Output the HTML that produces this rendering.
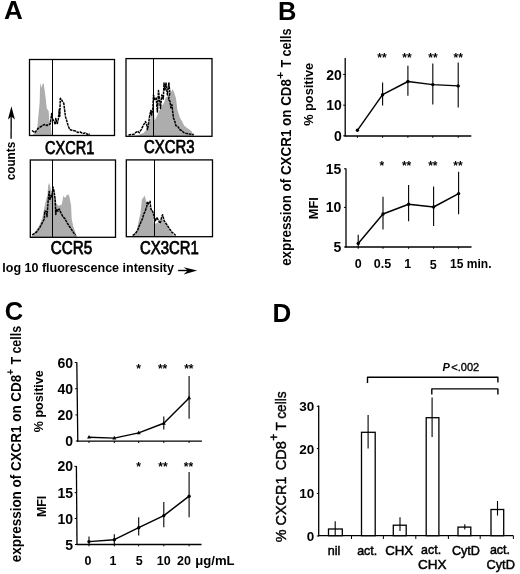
<!DOCTYPE html>
<html><head><meta charset="utf-8"><style>
html,body{margin:0;padding:0;background:#fff;}
body{width:520px;height:574px;overflow:hidden;}
svg{display:block;filter:grayscale(100%);}
text{font-family:'Liberation Sans', sans-serif;fill:#000;}
</style></head><body>
<svg width="520" height="574" viewBox="0 0 520 574">
<rect width="520" height="574" fill="#fff"/>
<text x="4.0" y="19.2" font-size="26" font-weight="bold" text-anchor="start">A</text>
<polygon points="31,135.5 34,134 36.1,132 37.1,130.5 38.1,118.4 39.6,103.3 40.1,86.1 40.6,83 41.6,88.1 42.6,84.1 43.6,83 44.6,90.1 45.7,98.2 46.7,108.3 48.7,111.3 49.2,120.4 50.7,125.5 51.7,134.6 52.5,135.5" fill="#adadad"/>
<polyline points="32,130.5 35,132.5 38,128.5 41.1,126.5 44.1,124.5 46.7,125.5 48.7,124.5 50.2,124 51.7,113.4 52.2,118.4 54.2,121.4 55.3,124.5 55.8,118.4 57.3,123.5 58.3,119.4 59.3,109.3 59.8,116.4 60.3,98.2 61.5,99.5 62.3,101.2 63.8,103.3 64.8,111.3 65.4,116.4 66.9,121.4 68.4,126.5 69.9,129.5 72.5,130.5 75.3,131 78,132.5 80.2,132 83,133.5 85.2,133 88,134.5 90,134" fill="none" stroke="#000" stroke-width="1.5" stroke-linejoin="round" stroke-dasharray="2.8 0.7"/>
<line x1="52.5" y1="59.5" x2="52.5" y2="135.5" stroke="#000" stroke-width="1.0"/>
<rect x="29.5" y="59.5" width="85.0" height="76.0" fill="none" stroke="#000" stroke-width="1.3"/>
<polygon points="131,136 138.5,135 143.9,132.7 147,128.8 150.1,119.6 152.4,110.4 153.5,108 154.7,120.4 157,116 160.1,108.8 164,102.7 165.5,98.1 167.3,96.4 169.9,92.9 171.5,91.5 172.5,89 174,92 175.9,97.9 177.4,109.8 179.9,117.7 182.3,121.7 184.3,125.7 186.8,127.7 189.8,129.7 191.8,131.6 192.8,134.1 194,136" fill="#adadad"/>
<polyline points="128.5,135 133.9,134.2 135.5,132.7 137.8,131.2 139.3,132.7 141.2,129.6 143.5,125 145.5,121.5 147,125.8 147.4,129.6 148.2,125.8 149.3,118.1 150.8,110.4 151.6,115 152.8,108.8 153.5,95 154.7,99.6 156.2,98.1 157.4,112 158.5,90.5 160.5,108.5 161.8,95 163.3,99 164,83 165,89.9 166,83 167.4,94.9 168.9,83 169.9,92.9 168.4,99.9 169.9,100.9 170.9,107.8 171.9,104.8 173.4,117.7 174.9,121.7 175.9,125.7 177.9,126.7 179.9,129.7 181.8,130.6 183.8,132.6 186.8,133.6 189.8,134.1 193.8,134.6" fill="none" stroke="#000" stroke-width="1.5" stroke-linejoin="round" stroke-dasharray="2.8 0.7"/>
<line x1="153.5" y1="58.6" x2="153.5" y2="136.3" stroke="#000" stroke-width="1.0"/>
<rect x="126.0" y="58.6" width="86.0" height="77.70000000000002" fill="none" stroke="#000" stroke-width="1.3"/>
<polygon points="31.5,237 33.3,234.2 38.8,226.5 42.1,218.9 44.3,207.9 45.4,202.4 47.5,194.7 48.1,186 49.2,182.7 50.3,187.1 51.4,192.5 53.6,187.1 54.7,194.7 56.3,203.5 58.5,205.7 61.8,204.6 63.4,195.8 65.1,198 66.7,195.3 68.4,194.2 69.5,197 71.1,205.7 71.7,218.9 73.3,226.5 76.1,234.2 77.1,236.4 77.5,237" fill="#adadad"/>
<polyline points="32.2,234.8 36.6,232 38.2,229.8 40.4,226.5 42.1,223.2 44.3,218.9 44.8,211.2 46.4,211.2 47,216.7 47.5,210.1 48.1,201.3 49.2,191.4 49.7,200.2 50.8,195.8 51.9,196.9 53,187.1 54.1,191.4 54.7,195.8 55.2,200.2 55.8,214.5 56.3,209 58,211.2 59.1,209 60.7,212.3 62.9,216.7 65.1,218.9 67.3,223.2 69.5,226.5 71.7,229.8 73.9,233.1 75.5,235.3" fill="none" stroke="#000" stroke-width="1.5" stroke-linejoin="round" stroke-dasharray="2.8 0.7"/>
<line x1="52.5" y1="160.0" x2="52.5" y2="237.3" stroke="#000" stroke-width="1.0"/>
<rect x="30.3" y="160.0" width="85.2" height="77.30000000000001" fill="none" stroke="#000" stroke-width="1.3"/>
<polygon points="131,236.5 131.8,236 136.7,231.2 139.1,218.7 140.5,212.9 141.9,199.4 143.4,197.5 144.3,195.6 145.3,197.5 146.3,202.3 148.7,205.2 150.6,207.1 151.6,211 153,213.8 154,224.4 155.9,223.5 157.8,222.5 159.7,224.4 161.7,218.7 163.1,219.6 165,223.5 166.9,225.4 168.9,229.2 170.8,232.1 173.2,235 174.5,236.5" fill="#adadad"/>
<polyline points="132.8,235.5 135.7,233.1 137.6,230.2 139.1,226.3 141,222 142.4,218.7 143.9,213.8 145.3,211 146.8,206.2 147.2,202.3 148.2,204.2 149.2,202.3 150.1,201.3 150.6,207.1 151.6,211 152.5,211 153.5,213.8 154.4,218.7 155.4,220.6 156.8,217.7 158.8,220.6 159.7,223.5 160.7,221.5 161.7,216.7 162.6,214.8 164.1,220.6 166,223.5 167.9,226.3 169.8,229.2 171.8,232.1 174.2,234 175.6,235.5" fill="none" stroke="#000" stroke-width="1.5" stroke-linejoin="round" stroke-dasharray="2.8 0.7"/>
<line x1="154.5" y1="159.9" x2="154.5" y2="236.7" stroke="#000" stroke-width="1.0"/>
<rect x="126.3" y="159.9" width="86.2" height="76.79999999999998" fill="none" stroke="#000" stroke-width="1.3"/>
<text x="45" y="154" font-size="18" font-weight="normal" text-anchor="start" textLength="49.2" lengthAdjust="spacingAndGlyphs" stroke="#000" stroke-width="0.75">CXCR1</text>
<text x="144" y="153.3" font-size="18" font-weight="normal" text-anchor="start" textLength="50.6" lengthAdjust="spacingAndGlyphs" stroke="#000" stroke-width="0.75">CXCR3</text>
<text x="50.8" y="254.2" font-size="18" font-weight="normal" text-anchor="start" textLength="41.5" lengthAdjust="spacingAndGlyphs" stroke="#000" stroke-width="0.75">CCR5</text>
<text x="140" y="254" font-size="18" font-weight="normal" text-anchor="start" textLength="58.8" lengthAdjust="spacingAndGlyphs" stroke="#000" stroke-width="0.75">CX3CR1</text>
<text transform="translate(14.8,180.3) rotate(-90)" font-size="12" font-weight="bold" textLength="38.5" lengthAdjust="spacingAndGlyphs">counts</text>
<line x1="11.1" y1="138.8" x2="11.2" y2="114" stroke="#000" stroke-width="1.3"/>
<polygon points="11.4,106.3 7.9,119.4 11.3,116.6 14.9,119.4" fill="#000"/>
<text x="2.3" y="272.4" font-size="12.5" font-weight="bold" text-anchor="start" textLength="171.7" lengthAdjust="spacingAndGlyphs">log 10 fluorescence intensity</text>
<line x1="178.1" y1="270.5" x2="190" y2="270.5" stroke="#000" stroke-width="1.4"/>
<polygon points="197.2,270.5 183.6,267.2 187.8,270.5 183.6,274.6" fill="#000"/>
<text x="278.0" y="19.6" font-size="25.5" font-weight="bold" text-anchor="start">B</text>
<text transform="translate(291.2,265.86) rotate(-90)" font-size="14" font-weight="bold" textLength="186.82" lengthAdjust="spacingAndGlyphs">expression of CXCR1 on CD8</text>
<text transform="translate(284.2,79.1) rotate(-90)" font-size="11.5" font-weight="bold" textLength="7.2" lengthAdjust="spacingAndGlyphs">+</text>
<text transform="translate(291.2,67.56) rotate(-90)" font-size="14" font-weight="bold" textLength="39.12" lengthAdjust="spacingAndGlyphs">T cells</text>
<text transform="translate(312.9,125.8) rotate(-90)" font-size="13" font-weight="bold" textLength="63" lengthAdjust="spacingAndGlyphs">% positive</text>
<text transform="translate(318.0,219.2) rotate(-90)" font-size="13.5" font-weight="bold" textLength="22" lengthAdjust="spacingAndGlyphs">MFI</text>
<line x1="345.2" y1="57.9" x2="345.2" y2="136.6" stroke="#000" stroke-width="1.3"/>
<line x1="344.59999999999997" y1="136.0" x2="471.3" y2="136.0" stroke="#000" stroke-width="1.3"/>
<line x1="343.2" y1="135.8" x2="345.2" y2="135.8" stroke="#000" stroke-width="1.0"/>
<text x="341.8" y="140.8" font-size="14" font-weight="bold" text-anchor="end">0</text>
<line x1="343.2" y1="105.2" x2="345.2" y2="105.2" stroke="#000" stroke-width="1.0"/>
<text x="341.8" y="110.2" font-size="14" font-weight="bold" text-anchor="end">10</text>
<line x1="343.2" y1="74.5" x2="345.2" y2="74.5" stroke="#000" stroke-width="1.0"/>
<text x="341.8" y="79.5" font-size="14" font-weight="bold" text-anchor="end">20</text>
<line x1="357.4" y1="136.0" x2="357.4" y2="137.8" stroke="#000" stroke-width="1.0"/>
<line x1="382.6" y1="136.0" x2="382.6" y2="137.8" stroke="#000" stroke-width="1.0"/>
<line x1="407.9" y1="136.0" x2="407.9" y2="137.8" stroke="#000" stroke-width="1.0"/>
<line x1="432.8" y1="136.0" x2="432.8" y2="137.8" stroke="#000" stroke-width="1.0"/>
<line x1="458.2" y1="136.0" x2="458.2" y2="137.8" stroke="#000" stroke-width="1.0"/>
<line x1="382.6" y1="82.6" x2="382.6" y2="105.4" stroke="#000" stroke-width="1.1"/>
<line x1="407.9" y1="65.7" x2="407.9" y2="95.7" stroke="#000" stroke-width="1.1"/>
<line x1="432.8" y1="63.4" x2="432.8" y2="104.6" stroke="#000" stroke-width="1.1"/>
<line x1="458.2" y1="62.6" x2="458.2" y2="107.5" stroke="#000" stroke-width="1.1"/>
<polyline points="357.4,130.3 382.6,94.7 407.9,81.5 432.8,84.6 458.2,85.9" fill="none" stroke="#000" stroke-width="1.45" stroke-linejoin="round"/>
<circle cx="357.4" cy="130.3" r="1.7" fill="#000"/>
<circle cx="382.6" cy="94.7" r="1.7" fill="#000"/>
<circle cx="407.9" cy="81.5" r="1.7" fill="#000"/>
<circle cx="432.8" cy="84.6" r="1.7" fill="#000"/>
<circle cx="458.2" cy="85.9" r="1.7" fill="#000"/>
<text x="381.9" y="61.6" font-size="12" font-weight="bold" text-anchor="middle">**</text>
<text x="407.0" y="61.6" font-size="12" font-weight="bold" text-anchor="middle">**</text>
<text x="432.9" y="61.6" font-size="12" font-weight="bold" text-anchor="middle">**</text>
<text x="458.2" y="61.6" font-size="12" font-weight="bold" text-anchor="middle">**</text>
<line x1="346.0" y1="168.4" x2="346.0" y2="247.6" stroke="#000" stroke-width="1.3"/>
<line x1="345.4" y1="247.0" x2="471.5" y2="247.0" stroke="#000" stroke-width="1.3"/>
<line x1="344.0" y1="247.0" x2="346.0" y2="247.0" stroke="#000" stroke-width="1.0"/>
<text x="341.4" y="252.0" font-size="14" font-weight="bold" text-anchor="end">5</text>
<line x1="344.0" y1="207.4" x2="346.0" y2="207.4" stroke="#000" stroke-width="1.0"/>
<text x="341.4" y="212.4" font-size="14" font-weight="bold" text-anchor="end">10</text>
<line x1="344.0" y1="168.8" x2="346.0" y2="168.8" stroke="#000" stroke-width="1.0"/>
<text x="341.4" y="173.8" font-size="14" font-weight="bold" text-anchor="end">15</text>
<line x1="358.2" y1="247.0" x2="358.2" y2="248.8" stroke="#000" stroke-width="1.0"/>
<line x1="383.0" y1="247.0" x2="383.0" y2="248.8" stroke="#000" stroke-width="1.0"/>
<line x1="408.6" y1="247.0" x2="408.6" y2="248.8" stroke="#000" stroke-width="1.0"/>
<line x1="433.6" y1="247.0" x2="433.6" y2="248.8" stroke="#000" stroke-width="1.0"/>
<line x1="458.6" y1="247.0" x2="458.6" y2="248.8" stroke="#000" stroke-width="1.0"/>
<line x1="358.2" y1="234.8" x2="358.2" y2="247" stroke="#000" stroke-width="1.1"/>
<line x1="383.0" y1="196.7" x2="383.0" y2="229.6" stroke="#000" stroke-width="1.1"/>
<line x1="408.6" y1="185.1" x2="408.6" y2="221.2" stroke="#000" stroke-width="1.1"/>
<line x1="433.6" y1="186.4" x2="433.6" y2="225.9" stroke="#000" stroke-width="1.1"/>
<line x1="458.6" y1="171.8" x2="458.6" y2="214.2" stroke="#000" stroke-width="1.1"/>
<polyline points="358.2,243.5 383.0,214.0 408.6,204.2 433.6,207.0 458.6,193.6" fill="none" stroke="#000" stroke-width="1.45" stroke-linejoin="round"/>
<circle cx="358.2" cy="243.5" r="1.7" fill="#000"/>
<circle cx="383.0" cy="214.0" r="1.7" fill="#000"/>
<circle cx="408.6" cy="204.2" r="1.7" fill="#000"/>
<circle cx="433.6" cy="207.0" r="1.7" fill="#000"/>
<circle cx="458.6" cy="193.6" r="1.7" fill="#000"/>
<text x="381.9" y="169.7" font-size="12" font-weight="bold" text-anchor="middle">*</text>
<text x="406.6" y="169.7" font-size="12" font-weight="bold" text-anchor="middle">**</text>
<text x="432.8" y="169.7" font-size="12" font-weight="bold" text-anchor="middle">**</text>
<text x="458.0" y="169.7" font-size="12" font-weight="bold" text-anchor="middle">**</text>
<text x="358.2" y="268.4" font-size="12.5" font-weight="bold" text-anchor="middle">0</text>
<text x="382.5" y="268.4" font-size="12.5" font-weight="bold" text-anchor="middle">0.5</text>
<text x="407.8" y="268.4" font-size="12.5" font-weight="bold" text-anchor="middle">1</text>
<text x="433.3" y="269.3" font-size="12.5" font-weight="bold" text-anchor="middle">5</text>
<text x="450" y="268.4" font-size="12.5" font-weight="bold" text-anchor="start" textLength="41.5" lengthAdjust="spacingAndGlyphs">15 min.</text>
<text x="4.8" y="319.6" font-size="25.5" font-weight="bold" text-anchor="start">C</text>
<text transform="translate(20.6,562.16) rotate(-90)" font-size="14" font-weight="bold" textLength="187.42" lengthAdjust="spacingAndGlyphs">expression of CXCR1 on CD8</text>
<text transform="translate(13.5,374.9) rotate(-90)" font-size="11.5" font-weight="bold" textLength="5.8" lengthAdjust="spacingAndGlyphs">+</text>
<text transform="translate(20.6,364.56) rotate(-90)" font-size="14" font-weight="bold" textLength="38.62" lengthAdjust="spacingAndGlyphs">T cells</text>
<text transform="translate(43.0,432.2) rotate(-90)" font-size="13" font-weight="bold" textLength="62" lengthAdjust="spacingAndGlyphs">% positive</text>
<text transform="translate(45.9,517.1) rotate(-90)" font-size="13.5" font-weight="bold" textLength="21.4" lengthAdjust="spacingAndGlyphs">MFI</text>
<line x1="76.8" y1="362.2" x2="77.8" y2="441.8" stroke="#000" stroke-width="1.3"/>
<line x1="77.2" y1="441.2" x2="201.9" y2="441.2" stroke="#000" stroke-width="1.3"/>
<line x1="75.79746835443038" y1="441.0" x2="77.79746835443038" y2="441.0" stroke="#000" stroke-width="1.0"/>
<text x="73.0" y="446.0" font-size="14" font-weight="bold" text-anchor="end">0</text>
<line x1="75.46708860759493" y1="414.9" x2="77.46708860759493" y2="414.9" stroke="#000" stroke-width="1.0"/>
<text x="73.0" y="419.9" font-size="14" font-weight="bold" text-anchor="end">20</text>
<line x1="75.13544303797468" y1="388.7" x2="77.13544303797468" y2="388.7" stroke="#000" stroke-width="1.0"/>
<text x="73.0" y="393.7" font-size="14" font-weight="bold" text-anchor="end">40</text>
<line x1="74.80379746835443" y1="362.5" x2="76.80379746835443" y2="362.5" stroke="#000" stroke-width="1.0"/>
<text x="73.0" y="367.5" font-size="14" font-weight="bold" text-anchor="end">60</text>
<line x1="89.0" y1="441.2" x2="89.0" y2="443.0" stroke="#000" stroke-width="1.0"/>
<line x1="114.3" y1="441.2" x2="114.3" y2="443.0" stroke="#000" stroke-width="1.0"/>
<line x1="138.7" y1="441.2" x2="138.7" y2="443.0" stroke="#000" stroke-width="1.0"/>
<line x1="163.8" y1="441.2" x2="163.8" y2="443.0" stroke="#000" stroke-width="1.0"/>
<line x1="189.1" y1="441.2" x2="189.1" y2="443.0" stroke="#000" stroke-width="1.0"/>
<line x1="163.8" y1="416.4" x2="163.8" y2="429.4" stroke="#000" stroke-width="1.1"/>
<line x1="189.1" y1="376.1" x2="189.1" y2="418.7" stroke="#000" stroke-width="1.1"/>
<polyline points="89.0,437.2 114.3,438.1 138.7,432.9 163.8,423.3 189.1,397.9" fill="none" stroke="#000" stroke-width="1.45" stroke-linejoin="round"/>
<polygon points="87.0,438.59999999999997 91.0,438.59999999999997 89.0,434.9" fill="#000"/>
<polygon points="112.3,439.5 116.3,439.5 114.3,435.8" fill="#000"/>
<polygon points="136.7,434.29999999999995 140.7,434.29999999999995 138.7,430.59999999999997" fill="#000"/>
<polygon points="161.8,424.7 165.8,424.7 163.8,421.0" fill="#000"/>
<polygon points="187.1,399.29999999999995 191.1,399.29999999999995 189.1,395.59999999999997" fill="#000"/>
<text x="138.7" y="373.0" font-size="12" font-weight="bold" text-anchor="middle">*</text>
<text x="162.6" y="373.0" font-size="12" font-weight="bold" text-anchor="middle">**</text>
<text x="188.8" y="373.0" font-size="12" font-weight="bold" text-anchor="middle">**</text>
<line x1="76.4" y1="466.0" x2="77.0" y2="545.1" stroke="#000" stroke-width="1.3"/>
<line x1="76.4" y1="544.5" x2="201.5" y2="544.5" stroke="#000" stroke-width="1.3"/>
<line x1="75.0" y1="544.5" x2="77.0" y2="544.5" stroke="#000" stroke-width="1.0"/>
<text x="73.0" y="549.5" font-size="14" font-weight="bold" text-anchor="end">5</text>
<line x1="74.80127388535033" y1="518.5" x2="76.80127388535033" y2="518.5" stroke="#000" stroke-width="1.0"/>
<text x="73.0" y="523.5" font-size="14" font-weight="bold" text-anchor="end">10</text>
<line x1="74.60331210191083" y1="492.6" x2="76.60331210191083" y2="492.6" stroke="#000" stroke-width="1.0"/>
<text x="73.0" y="497.6" font-size="14" font-weight="bold" text-anchor="end">15</text>
<line x1="74.40229299363058" y1="466.3" x2="76.40229299363058" y2="466.3" stroke="#000" stroke-width="1.0"/>
<text x="73.0" y="471.3" font-size="14" font-weight="bold" text-anchor="end">20</text>
<line x1="89.0" y1="544.5" x2="89.0" y2="546.3" stroke="#000" stroke-width="1.0"/>
<line x1="114.3" y1="544.5" x2="114.3" y2="546.3" stroke="#000" stroke-width="1.0"/>
<line x1="138.7" y1="544.5" x2="138.7" y2="546.3" stroke="#000" stroke-width="1.0"/>
<line x1="163.8" y1="544.5" x2="163.8" y2="546.3" stroke="#000" stroke-width="1.0"/>
<line x1="189.1" y1="544.5" x2="189.1" y2="546.3" stroke="#000" stroke-width="1.0"/>
<line x1="89.0" y1="536.6" x2="89.0" y2="544" stroke="#000" stroke-width="1.1"/>
<line x1="114.3" y1="534.2" x2="114.3" y2="544" stroke="#000" stroke-width="1.1"/>
<line x1="138.7" y1="517.3" x2="138.7" y2="535.4" stroke="#000" stroke-width="1.1"/>
<line x1="163.8" y1="502.0" x2="163.8" y2="527.3" stroke="#000" stroke-width="1.1"/>
<line x1="189.1" y1="472.0" x2="189.1" y2="517.3" stroke="#000" stroke-width="1.1"/>
<polyline points="89.0,541.6 114.3,539.7 138.7,527.7 163.8,515.6 189.1,496.2" fill="none" stroke="#000" stroke-width="1.45" stroke-linejoin="round"/>
<circle cx="89.0" cy="541.6" r="1.7" fill="#000"/>
<circle cx="114.3" cy="539.7" r="1.7" fill="#000"/>
<circle cx="138.7" cy="527.7" r="1.7" fill="#000"/>
<circle cx="163.8" cy="515.6" r="1.7" fill="#000"/>
<circle cx="189.1" cy="496.2" r="1.7" fill="#000"/>
<text x="138.7" y="470.5" font-size="12" font-weight="bold" text-anchor="middle">*</text>
<text x="163.0" y="470.5" font-size="12" font-weight="bold" text-anchor="middle">**</text>
<text x="188.4" y="470.5" font-size="12" font-weight="bold" text-anchor="middle">**</text>
<text x="87.9" y="564.8" font-size="12.5" font-weight="bold" text-anchor="middle">0</text>
<text x="113.1" y="564.8" font-size="12.5" font-weight="bold" text-anchor="middle">1</text>
<text x="139.3" y="564.8" font-size="12.5" font-weight="bold" text-anchor="middle">5</text>
<text x="163.7" y="564.8" font-size="12.5" font-weight="bold" text-anchor="middle">10</text>
<text x="183.9" y="564.8" font-size="12.5" font-weight="bold" text-anchor="middle">20</text>
<text x="195.2" y="564.8" font-size="12.5" font-weight="bold" text-anchor="start" textLength="39.4" lengthAdjust="spacingAndGlyphs">&#956;g/mL</text>
<text x="272.6" y="321.8" font-size="26" font-weight="bold" text-anchor="start">D</text>
<text transform="translate(285.7,542.2) rotate(-90)" font-size="15" font-weight="normal" textLength="65.6" lengthAdjust="spacingAndGlyphs" stroke="#000" stroke-width="0.4">% CXCR1</text>
<text transform="translate(285.7,470.3) rotate(-90)" font-size="15" font-weight="normal" textLength="29.1" lengthAdjust="spacingAndGlyphs" stroke="#000" stroke-width="0.4">CD8</text>
<text transform="translate(277.6,440.7) rotate(-90)" font-size="12" font-weight="normal" textLength="7.0" lengthAdjust="spacingAndGlyphs" stroke="#000" stroke-width="0.4">+</text>
<text transform="translate(285.7,430.6) rotate(-90)" font-size="15" font-weight="normal" textLength="39.2" lengthAdjust="spacingAndGlyphs" stroke="#000" stroke-width="0.4">T cells</text>
<line x1="318.7" y1="405.6" x2="318.7" y2="536.3" stroke="#000" stroke-width="1.3"/>
<line x1="318.0" y1="535.7" x2="513.4" y2="535.7" stroke="#000" stroke-width="1.3"/>
<line x1="316.8" y1="536.0" x2="318.7" y2="536.0" stroke="#000" stroke-width="1.0"/>
<text x="314.2" y="540.9" font-size="13.5" font-weight="bold" text-anchor="end">0</text>
<line x1="316.8" y1="493.4" x2="318.7" y2="493.4" stroke="#000" stroke-width="1.0"/>
<text x="314.2" y="498.29999999999995" font-size="13.5" font-weight="bold" text-anchor="end">10</text>
<line x1="316.8" y1="448.6" x2="318.7" y2="448.6" stroke="#000" stroke-width="1.0"/>
<text x="314.2" y="453.5" font-size="13.5" font-weight="bold" text-anchor="end">20</text>
<line x1="316.8" y1="406.3" x2="318.7" y2="406.3" stroke="#000" stroke-width="1.0"/>
<text x="314.2" y="411.2" font-size="13.5" font-weight="bold" text-anchor="end">30</text>
<line x1="351.5" y1="535.7" x2="351.5" y2="539" stroke="#000" stroke-width="1.0"/>
<line x1="383.4" y1="535.7" x2="383.4" y2="539" stroke="#000" stroke-width="1.0"/>
<line x1="415.8" y1="535.7" x2="415.8" y2="539" stroke="#000" stroke-width="1.0"/>
<line x1="448.4" y1="535.7" x2="448.4" y2="539" stroke="#000" stroke-width="1.0"/>
<line x1="480.2" y1="535.7" x2="480.2" y2="539" stroke="#000" stroke-width="1.0"/>
<line x1="513.4" y1="535.7" x2="513.4" y2="539" stroke="#000" stroke-width="1.0"/>
<rect x="328.5" y="529.0" width="13.800000000000011" height="6.7000000000000455" fill="#fff" stroke="#000" stroke-width="1.3"/>
<line x1="335.2" y1="521.3" x2="335.2" y2="535.7" stroke="#000" stroke-width="1.1"/>
<rect x="361.5" y="432.3" width="13.699999999999989" height="103.40000000000003" fill="#fff" stroke="#000" stroke-width="1.3"/>
<line x1="368.1" y1="415.0" x2="368.1" y2="448.5" stroke="#000" stroke-width="1.1"/>
<rect x="393.3" y="525.2" width="12.899999999999977" height="10.5" fill="#fff" stroke="#000" stroke-width="1.3"/>
<line x1="400.0" y1="517.3" x2="400.0" y2="531.0" stroke="#000" stroke-width="1.1"/>
<rect x="426.2" y="417.7" width="12.699999999999989" height="118.00000000000006" fill="#fff" stroke="#000" stroke-width="1.3"/>
<line x1="432.1" y1="397.6" x2="432.1" y2="437.0" stroke="#000" stroke-width="1.1"/>
<rect x="458.0" y="527.1" width="12.800000000000011" height="8.600000000000023" fill="#fff" stroke="#000" stroke-width="1.3"/>
<line x1="464.8" y1="524.2" x2="464.8" y2="529.4" stroke="#000" stroke-width="1.1"/>
<rect x="491.0" y="509.5" width="12.699999999999989" height="26.200000000000045" fill="#fff" stroke="#000" stroke-width="1.3"/>
<line x1="497.5" y1="501.0" x2="497.5" y2="515.6" stroke="#000" stroke-width="1.1"/>
<polyline points="367.5,383 367.5,377.3 497.9,377.3 497.9,382.6" fill="none" stroke="#000" stroke-width="1.4" stroke-linejoin="round" stroke-linejoin="miter"/>
<polyline points="431.8,394.6 431.8,388.9 497.9,388.9 497.9,394.6" fill="none" stroke="#000" stroke-width="1.4" stroke-linejoin="round" stroke-linejoin="miter"/>
<text x="442.6" y="370.5" font-size="11" font-weight="normal" text-anchor="start"><tspan font-weight="bold" font-style="italic">P</tspan><tspan dx="1.4" stroke="#000" stroke-width="0.35">&lt;.002</tspan></text>
<text x="334.0" y="555.0" font-size="13.5" font-weight="normal" text-anchor="middle" textLength="12.6" lengthAdjust="spacingAndGlyphs" stroke="#000" stroke-width="0.5">nil</text>
<text x="367.2" y="555.0" font-size="13.5" font-weight="normal" text-anchor="middle" textLength="20.0" lengthAdjust="spacingAndGlyphs" stroke="#000" stroke-width="0.5">act.</text>
<text x="399.2" y="555.0" font-size="13.5" font-weight="normal" text-anchor="middle" textLength="28.0" lengthAdjust="spacingAndGlyphs" stroke="#000" stroke-width="0.5">CHX</text>
<text x="431.1" y="554.4" font-size="13.5" font-weight="normal" text-anchor="middle" textLength="20.0" lengthAdjust="spacingAndGlyphs" stroke="#000" stroke-width="0.5">act.</text>
<text x="432.2" y="568.6" font-size="13.5" font-weight="normal" text-anchor="middle" textLength="28.6" lengthAdjust="spacingAndGlyphs" stroke="#000" stroke-width="0.5">CHX</text>
<text x="465.9" y="555.0" font-size="13.5" font-weight="normal" text-anchor="middle" textLength="28.0" lengthAdjust="spacingAndGlyphs" stroke="#000" stroke-width="0.5">CytD</text>
<text x="500.0" y="554.4" font-size="13.5" font-weight="normal" text-anchor="middle" textLength="20.2" lengthAdjust="spacingAndGlyphs" stroke="#000" stroke-width="0.5">act.</text>
<text x="500.7" y="569.4" font-size="13.5" font-weight="normal" text-anchor="middle" textLength="28.4" lengthAdjust="spacingAndGlyphs" stroke="#000" stroke-width="0.5">CytD</text>
</svg>
</body></html>
